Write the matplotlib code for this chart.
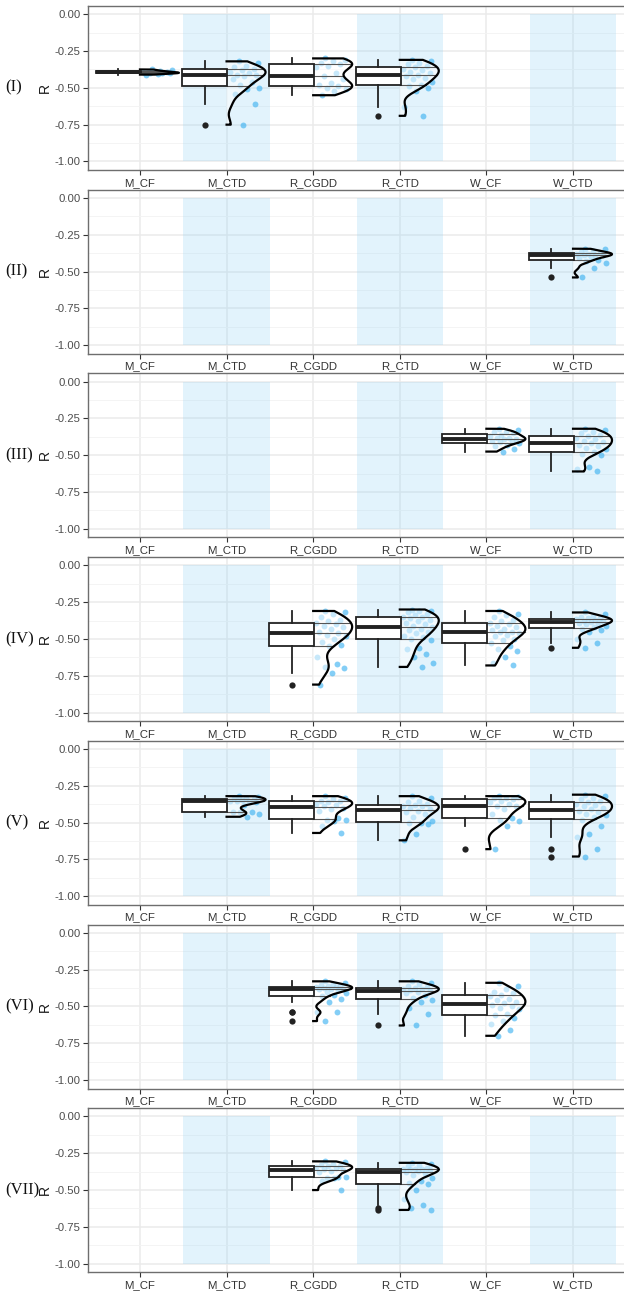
import numpy as np
import matplotlib
matplotlib.use("Agg")
import matplotlib.pyplot as plt

plt.rcParams['font.family'] = ['Liberation Sans', 'DejaVu Sans']

# categories on the x axis, shaded ones get a light blue band
cats = ["M_CF", "M_CTD", "R_CGDD", "R_CTD", "W_CF", "W_CTD"]
shaded = ["M_CTD", "R_CTD", "W_CTD"]
panel_names = ["(I)", "(II)", "(III)", "(IV)", "(V)", "(VI)", "(VII)"]
yticks = [-1.0, -0.75, -0.5, -0.25, 0.0]
ytick_labels = ["-1.00", "-0.75", "-0.50", "-0.25", "0.00"]

# R values, one list per panel / category
i_M_CF = [-0.375, -0.38, -0.385, -0.39, -0.39, -0.395, -0.395, -0.40, -0.40, -0.40, -0.405, -0.41]
i_M_CTD = [-0.32, -0.33, -0.35, -0.36, -0.37, -0.38, -0.39, -0.40, -0.41, -0.41, -0.42, -0.44,
           -0.46, -0.48, -0.50, -0.51, -0.54, -0.61, -0.75]
i_R_CGDD = [-0.30, -0.31, -0.32, -0.33, -0.34, -0.35, -0.36, -0.40, -0.42, -0.44, -0.47, -0.48,
            -0.49, -0.50, -0.51, -0.52, -0.55]
i_R_CTD = [-0.31, -0.32, -0.33, -0.34, -0.35, -0.36, -0.37, -0.38, -0.39, -0.40, -0.41, -0.42,
           -0.43, -0.44, -0.46, -0.48, -0.49, -0.50, -0.52, -0.63, -0.69]

ii_W_CTD = [-0.345, -0.35, -0.36, -0.37, -0.375, -0.38, -0.38, -0.385, -0.39, -0.39, -0.40, -0.41,
            -0.42, -0.43, -0.44, -0.475, -0.54]

iii_W_CF = [-0.32, -0.33, -0.34, -0.345, -0.35, -0.36, -0.37, -0.38, -0.385, -0.39, -0.39, -0.40,
            -0.40, -0.41, -0.42, -0.43, -0.44, -0.46, -0.475]
iii_W_CTD = [-0.32, -0.33, -0.34, -0.35, -0.36, -0.37, -0.38, -0.39, -0.40, -0.41, -0.42, -0.43,
             -0.44, -0.45, -0.46, -0.48, -0.49, -0.50, -0.58, -0.59, -0.61]

iv_R_CGDD = [-0.31, -0.32, -0.33, -0.35, -0.37, -0.38, -0.39, -0.40, -0.41, -0.42, -0.43, -0.45,
             -0.46, -0.47, -0.48, -0.50, -0.52, -0.54, -0.55, -0.62, -0.67, -0.69, -0.70, -0.73, -0.81]
iv_R_CTD = [-0.30, -0.31, -0.31, -0.32, -0.33, -0.34, -0.35, -0.35, -0.36, -0.37, -0.38, -0.39,
            -0.40, -0.41, -0.42, -0.43, -0.44, -0.45, -0.46, -0.48, -0.49, -0.50, -0.51, -0.56,
            -0.57, -0.60, -0.62, -0.66, -0.69]
iv_W_CF = [-0.31, -0.33, -0.34, -0.35, -0.37, -0.38, -0.39, -0.40, -0.41, -0.42, -0.43, -0.44,
           -0.45, -0.45, -0.46, -0.47, -0.48, -0.50, -0.51, -0.53, -0.55, -0.57, -0.58, -0.62,
           -0.66, -0.68]
iv_W_CTD = [-0.32, -0.33, -0.345, -0.35, -0.355, -0.36, -0.365, -0.37, -0.375, -0.38, -0.385,
            -0.39, -0.395, -0.40, -0.41, -0.42, -0.43, -0.44, -0.45, -0.50, -0.525, -0.56]

v_M_CTD = [-0.32, -0.325, -0.33, -0.335, -0.34, -0.345, -0.35, -0.35, -0.355, -0.36, -0.38, -0.43,
           -0.43, -0.43, -0.44, -0.46]
v_R_CGDD = [-0.32, -0.33, -0.34, -0.35, -0.355, -0.36, -0.37, -0.38, -0.39, -0.40, -0.41, -0.42,
            -0.47, -0.48, -0.48, -0.49, -0.52, -0.57]
v_R_CTD = [-0.32, -0.33, -0.35, -0.36, -0.37, -0.38, -0.39, -0.39, -0.40, -0.41, -0.42, -0.43,
           -0.44, -0.46, -0.49, -0.50, -0.50, -0.51, -0.575, -0.62]
v_W_CF = [-0.32, -0.325, -0.33, -0.335, -0.34, -0.35, -0.36, -0.37, -0.385, -0.39, -0.41, -0.44,
          -0.47, -0.48, -0.49, -0.52, -0.68]
v_W_CTD = [-0.31, -0.32, -0.33, -0.34, -0.35, -0.36, -0.37, -0.38, -0.39, -0.40, -0.41, -0.42,
           -0.43, -0.44, -0.45, -0.46, -0.48, -0.52, -0.58, -0.60, -0.68, -0.73]

vi_R_CGDD = [-0.33, -0.34, -0.35, -0.355, -0.36, -0.365, -0.37, -0.37, -0.375, -0.38, -0.38,
             -0.385, -0.39, -0.40, -0.41, -0.42, -0.43, -0.45, -0.47, -0.54, -0.54, -0.60]
vi_R_CTD = [-0.33, -0.34, -0.35, -0.36, -0.37, -0.375, -0.38, -0.385, -0.39, -0.395, -0.40, -0.41,
            -0.42, -0.44, -0.46, -0.47, -0.51, -0.55, -0.63]
vi_W_CF = [-0.34, -0.36, -0.38, -0.40, -0.41, -0.42, -0.43, -0.45, -0.46, -0.47, -0.48, -0.49,
           -0.50, -0.51, -0.52, -0.55, -0.56, -0.58, -0.60, -0.62, -0.66, -0.70]

vii_R_CGDD = [-0.305, -0.31, -0.32, -0.33, -0.335, -0.34, -0.345, -0.35, -0.36, -0.365, -0.37,
              -0.38, -0.41, -0.42, -0.41, -0.42, -0.44, -0.50]
vii_R_CTD = [-0.315, -0.32, -0.33, -0.34, -0.35, -0.354, -0.356, -0.358, -0.36, -0.365, -0.37,
             -0.377, -0.385, -0.40, -0.42, -0.44, -0.455, -0.46, -0.50, -0.56, -0.60, -0.625, -0.635]

panels = [
    {"M_CF": i_M_CF, "M_CTD": i_M_CTD, "R_CGDD": i_R_CGDD, "R_CTD": i_R_CTD},
    {"W_CTD": ii_W_CTD},
    {"W_CF": iii_W_CF, "W_CTD": iii_W_CTD},
    {"R_CGDD": iv_R_CGDD, "R_CTD": iv_R_CTD, "W_CF": iv_W_CF, "W_CTD": iv_W_CTD},
    {"M_CTD": v_M_CTD, "R_CGDD": v_R_CGDD, "R_CTD": v_R_CTD, "W_CF": v_W_CF, "W_CTD": v_W_CTD},
    {"R_CGDD": vi_R_CGDD, "R_CTD": vi_R_CTD, "W_CF": vi_W_CF},
    {"R_CGDD": vii_R_CGDD, "R_CTD": vii_R_CTD},
]

POINT_COL = "#33AEF0"
BAND_COL = "#8ED3F5"


def half_violin(ax, x0, vals, width=0.45):
    """flat violin to the right of x0, gaussian kde with R's bw.nrd0"""
    v = np.asarray(vals, dtype=float)
    n = len(v)
    sd = v.std(ddof=1)
    iqr = np.subtract(*np.percentile(v, [75, 25]))
    lo = min(sd, iqr / 1.34) if iqr > 0 else sd
    bw = 0.9 * lo * n ** -0.2
    ys = np.linspace(v.min(), v.max(), 300)
    dens = np.exp(-0.5 * ((ys[:, None] - v[None, :]) / bw) ** 2).sum(axis=1)
    w = dens / dens.max() * width
    ax.fill_betweenx(ys, x0, x0 + w, facecolor="white", alpha=0.55, lw=0, zorder=3)
    for q in np.percentile(v, [25, 50, 75]):
        ax.plot([x0, x0 + np.interp(q, ys, w)], [q, q], color="#555555", lw=0.8, zorder=3.2)
    ax.plot(np.r_[x0, x0 + w[::-1], x0], np.r_[ys[-1], ys[::-1], ys[0]],
            color="black", lw=1.6, zorder=3.5, solid_joinstyle="round")


fig = plt.figure(figsize=(6.24, 12.93), dpi=100)
W, H = 624.0, 1293.0

for i, data in enumerate(panels):
    top = 6 + 183.7 * i
    ax = fig.add_axes([88 / W, 1 - (top + 164) / H, 537 / W, 164 / H])
    ax.set_xlim(0.4, 6.6)
    ax.set_ylim(-1.058, 0.056)

    # grid like theme_bw
    ax.set_axisbelow(True)
    ax.set_xticks(range(1, 7))
    ax.set_xticklabels(cats)
    ax.set_yticks(yticks)
    ax.set_yticklabels(ytick_labels)
    ax.set_yticks([-0.875, -0.625, -0.375, -0.125], minor=True)
    ax.grid(True, which="major", color="#EBEBEB", lw=1.1)
    ax.yaxis.grid(True, which="minor", color="#F3F3F3", lw=0.6)
    ax.tick_params(which="minor", length=0)
    ax.tick_params(which="major", length=3.5, width=0.8, color="#333333",
                   labelsize=8.2, labelcolor="#4D4D4D", pad=2)
    ax.tick_params(axis="x", labelcolor="#333333")
    for s in ax.spines.values():
        s.set_color("#6E6E6E")
        s.set_linewidth(1.0)

    # light blue bands
    for c in shaded:
        ax.bar(cats.index(c) + 1, 1.0, bottom=-1.0, width=1.0, color=BAND_COL,
               alpha=0.25, lw=0, zorder=1)

    for c, vals in data.items():
        x0 = cats.index(c) + 1
        n = len(vals)
        frac = (np.arange(n) * 0.618034 + 0.31) % 1.0
        ax.scatter(x0 + 0.03 + frac * 0.36, vals, s=18, color=POINT_COL, alpha=0.6,
                   lw=0, zorder=2)
        half_violin(ax, x0, vals)
        ax.boxplot([vals], positions=[x0 - 0.25], widths=0.52, patch_artist=True,
                   showcaps=False, manage_ticks=False, zorder=4,
                   boxprops=dict(facecolor="white", edgecolor="#222222", linewidth=1.3),
                   medianprops=dict(color="#222222", linewidth=2.8),
                   whiskerprops=dict(color="#222222", linewidth=1.3),
                   flierprops=dict(marker="o", markerfacecolor="#222222",
                                   markeredgecolor="none", markersize=4.5))

    ax.set_ylabel("R", fontsize=10, color="#1A1A1A", labelpad=2)
    # panel name at figure x but data y
    trans = matplotlib.transforms.blended_transform_factory(fig.transFigure, ax.transData)
    ax.text(5 / W, -0.5, panel_names[i], transform=trans, fontsize=12,
            family="Liberation Serif", ha="left", va="center", color="#111111")

fig.savefig("out.png", dpi=100)
